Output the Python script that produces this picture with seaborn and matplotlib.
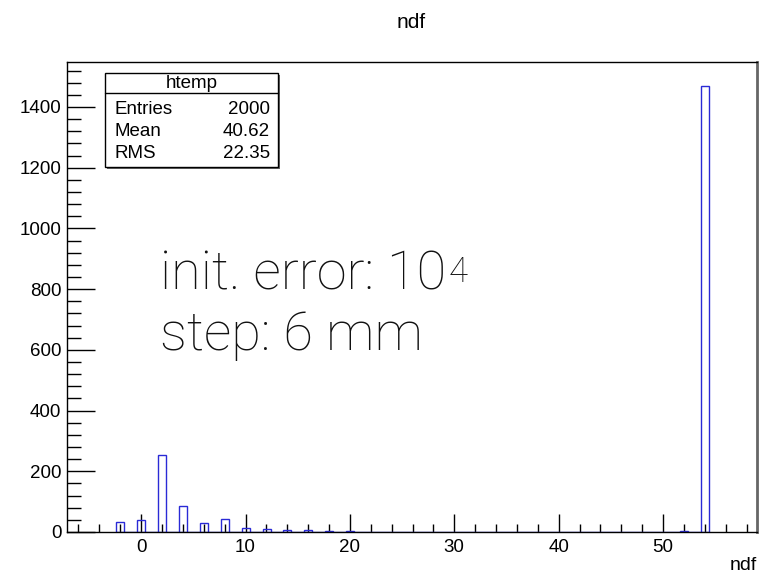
import numpy as np
import pandas as pd
import matplotlib
matplotlib.use("Agg")
import matplotlib.pyplot as plt
import seaborn as sns
from matplotlib.ticker import MultipleLocator
from matplotlib.patches import Rectangle
from matplotlib.lines import Line2D

# ---- data ----
ndf_values = [-2, 0, 2, 4, 6, 8, 10, 12, 14, 16, 18, 20, 22, 52, 54]
ndf_counts = [33, 40, 254, 86, 30, 43, 13, 10, 8, 5, 3, 2, 1, 3, 1468]
stats_labels = ["Entries", "Mean", "RMS"]
stats_values = ["2000", "40.62", "22.35"]
hist_name = "htemp"
title_text = "ndf"
xlabel_text = "ndf"
x_major_ticks = [0, 10, 20, 30, 40, 50]
y_major_ticks = [0, 200, 400, 600, 800, 1000, 1200, 1400]

sns.set_style("white")
plt.rcParams["font.family"] = ["Liberation Sans", "DejaVu Sans"]
plt.rcParams["text.color"] = "black"
plt.rcParams["xtick.color"] = "black"
plt.rcParams["ytick.color"] = "black"

W, H = 764, 574
fig = plt.figure(figsize=(W / 100, H / 100), dpi=100)

def fx(px):
    return px / W

def fy(py):
    return 1 - py / H

ax_l, ax_r, ax_t, ax_b = 67, 757, 62, 532
ax = fig.add_axes([fx(ax_l), fy(ax_b), fx(ax_r) - fx(ax_l), fy(ax_t) - fy(ax_b)])

# bin edges: narrow bins around each even value
edges = []
for v in ndf_values:
    edges.extend([v - 0.36, v + 0.40])
edges = sorted(set(edges))

df = pd.DataFrame({"ndf": ndf_values, "count": ndf_counts})
sns.histplot(data=df, x="ndf", weights="count", bins=edges, ax=ax,
             fill=False, element="bars", color="#2a2ad6", linewidth=1.0)

ax.set_xlim(-7.1, 59.0)
ax.set_ylim(0, 1548)
ax.set_xlabel("")
ax.set_ylabel("")

ax.set_xticks(x_major_ticks)
ax.set_yticks(y_major_ticks)
ax.xaxis.set_minor_locator(MultipleLocator(2))
ax.yaxis.set_minor_locator(MultipleLocator(40))
ax.tick_params(axis="both", which="both", direction="in", top=False, right=False,
               bottom=True, left=True, labelsize=13.5, colors="black", width=1.0)
ax.tick_params(axis="x", which="major", length=13, pad=5)
ax.tick_params(axis="x", which="minor", length=6)
ax.tick_params(axis="y", which="major", length=20, pad=4)
ax.tick_params(axis="y", which="minor", length=10)
for s in ax.spines.values():
    s.set_visible(True)
    s.set_color("black")
    s.set_linewidth(1.0)
ax.spines["right"].set_color("#666666")
ax.spines["right"].set_linewidth(2.0)

# title and axis label
fig.text(fx(411), fy(22), title_text, ha="center", va="center", fontsize=15)
fig.text(fx(757), fy(566), xlabel_text, ha="right", va="center", fontsize=14)

# annotation (light weight)
ann_kw = dict(family=["Roboto", "Liberation Sans", "DejaVu Sans"], weight="light",
              color="#111111")
t1 = fig.text(fx(160), fy(289), "init. error: 10", ha="left", va="baseline",
              fontsize=39, **ann_kw)
fig.text(fx(160), fy(350), "step: 6 mm", ha="left", va="baseline",
         fontsize=39, **ann_kw)
fig.canvas.draw()
bb = t1.get_window_extent()
x_sup = (bb.x1 + 2) / fig.bbox.width
fig.text(x_sup, fy(282), "4", ha="left", va="baseline", fontsize=25, **ann_kw)

# stats box
bx0, bx1, by0, by1 = 105, 278, 73, 167
fig.patches.append(Rectangle((fx(bx0) + 0.002, fy(by1) - 0.003), fx(bx1) - fx(bx0),
                             fy(by0) - fy(by1), transform=fig.transFigure,
                             facecolor="#666666", edgecolor="none", zorder=5))
fig.patches.append(Rectangle((fx(bx0), fy(by1)), fx(bx1) - fx(bx0),
                             fy(by0) - fy(by1), transform=fig.transFigure,
                             facecolor="white", edgecolor="black", linewidth=1.0,
                             zorder=6))
fig.lines.append(Line2D([fx(bx0), fx(bx1)], [fy(93), fy(93)],
                        transform=fig.transFigure, color="black", linewidth=1.0,
                        zorder=7))
fig.text(fx((bx0 + bx1) / 2), fy(84), hist_name, ha="center", va="center",
         fontsize=13.5, zorder=8)
row_y = [110, 132, 154]
for lab, val, yy in zip(stats_labels, stats_values, row_y):
    fig.text(fx(114), fy(yy), lab, ha="left", va="center", fontsize=13.5, zorder=8)
    fig.text(fx(270), fy(yy), val, ha="right", va="center", fontsize=13.5, zorder=8)

fig.savefig("out.png", dpi=100, facecolor="white")
